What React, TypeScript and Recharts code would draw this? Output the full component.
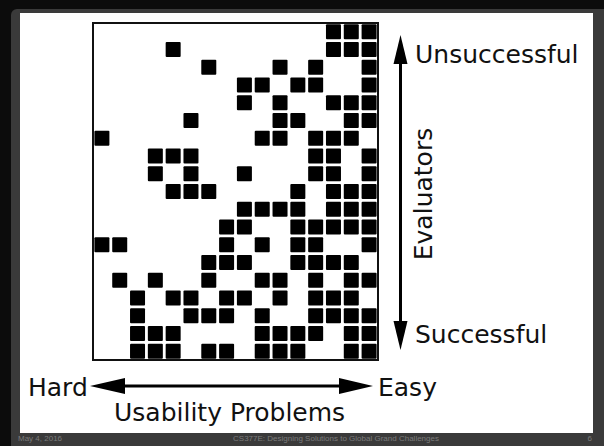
import React from 'react';
import { ScatterChart, Scatter, XAxis, YAxis, ReferenceArea } from 'recharts';

// 16 usability problems (columns, hard -> easy), 19 evaluators (rows, unsuccessful -> successful)
const problems: number[] = [0, 1, 2, 3, 4, 5, 6, 7, 8, 9, 10, 11, 12, 13, 14, 15];
const evaluators: number[] = [0, 1, 2, 3, 4, 5, 6, 7, 8, 9, 10, 11, 12, 13, 14, 15, 16, 17, 18];

// For each evaluator (row), the problems (columns) found
const found: number[][] = [
  [13, 14, 15],
  [4, 13, 14, 15],
  [6, 10, 12, 15],
  [8, 9, 11, 12, 15],
  [8, 10, 13, 14, 15],
  [5, 10, 11, 14, 15],
  [0, 9, 10, 12, 13, 14],
  [3, 4, 5, 12, 13, 15],
  [3, 5, 8, 12, 13, 15],
  [4, 5, 6, 11, 13, 14, 15],
  [8, 9, 10, 11, 13, 14, 15],
  [7, 8, 11, 12, 13, 14, 15],
  [0, 1, 7, 9, 11, 12, 15],
  [6, 7, 8, 11, 12, 13, 14],
  [1, 3, 6, 9, 10, 12, 14, 15],
  [2, 4, 5, 7, 8, 10, 12, 13, 14],
  [2, 5, 6, 7, 9, 12, 13, 14, 15],
  [2, 3, 4, 9, 10, 11, 12, 14, 15],
  [2, 3, 4, 6, 7, 9, 10, 11, 14, 15],
];

const xLabels = { left: 'Hard', right: 'Easy', title: 'Usability Problems' };
const yLabels = { top: 'Unsuccessful', bottom: 'Successful', title: 'Evaluators' };
const footer = { date: 'May 4, 2016', course: 'CS377E: Designing Solutions to Global Grand Challenges', page: '6' };

const points = found.flatMap((cols, row) => cols.map((col) => ({ x: col, y: row })));

const Square = (props: any) => {
  const { cx, cy } = props;
  if (cx == null || cy == null) return null;
  const s = 15;
  return <rect x={cx - s / 2} y={cy - s / 2} width={s} height={s} rx={1} fill="#000" />;
};

const FONT = '"DejaVu Sans", Verdana, sans-serif';

export default function App() {
  return (
    <div style={{ position: 'absolute', left: 0, top: 0, width: 604, height: 446, background: '#0c0c0c', overflow: 'hidden' }}>
      <div style={{ position: 'absolute', left: 11, top: 9, width: 600, height: 446, background: '#3a3a3a', borderRadius: 6 }} />
      <div style={{ position: 'absolute', left: 20, top: 13, width: 573, height: 420, background: '#ffffff' }} />
      <div style={{ position: 'absolute', left: 0, top: 0 }}>
        <ScatterChart width={604} height={446} margin={{ left: 93, top: 23, right: 226, bottom: 86 }}>
          <XAxis type="number" dataKey="x" domain={[problems[0] - 0.5, problems[problems.length - 1] + 0.5]} hide allowDataOverflow />
          <YAxis type="number" dataKey="y" domain={[evaluators[0] - 0.5, evaluators[evaluators.length - 1] + 0.5]} reversed hide allowDataOverflow />
          <ReferenceArea
            x1={problems[0] - 0.5}
            x2={problems[problems.length - 1] + 0.5}
            y1={evaluators[0] - 0.5}
            y2={evaluators[evaluators.length - 1] + 0.5}
            fill="none"
            fillOpacity={0}
            stroke="#111"
            strokeWidth={2}
            ifOverflow="visible"
          />
          <Scatter data={points} shape={<Square />} isAnimationActive={false} />
        </ScatterChart>
      </div>
      <svg width={604} height={446} style={{ position: 'absolute', left: 0, top: 0, pointerEvents: 'none' }}>
        {/* vertical arrow */}
        <line x1={400.5} y1={58} x2={400.5} y2={326} stroke="#000" strokeWidth={3} />
        <polygon points="400.5,35 393.5,64 407.5,64" fill="#000" />
        <polygon points="400.5,350 393.5,321 407.5,321" fill="#000" />
        {/* horizontal arrow */}
        <line x1={118} y1={386} x2={346} y2={386} stroke="#000" strokeWidth={3} />
        <polygon points="90,386 125,378 125,394" fill="#000" />
        <polygon points="373,386 339,378 339,394" fill="#000" />
        <g fontFamily={FONT} fontSize={25} fill="#111">
          <text x={415} y={63}>{yLabels.top}</text>
          <text x={415} y={343}>{yLabels.bottom}</text>
          <text x={432} y={194} textAnchor="middle" transform="rotate(-90 432 194)">{yLabels.title}</text>
          <text x={28} y={396}>{xLabels.left}</text>
          <text x={378} y={396}>{xLabels.right}</text>
          <text x={114} y={421}>{xLabels.title}</text>
        </g>
        <g fontFamily='"Liberation Sans", Arial, sans-serif' fontSize={8} fill="#7a7a7a">
          <text x={18} y={441}>{footer.date}</text>
          <text x={336} y={441} textAnchor="middle">{footer.course}</text>
          <text x={592} y={441} textAnchor="end">{footer.page}</text>
        </g>
      </svg>
    </div>
  );
}
